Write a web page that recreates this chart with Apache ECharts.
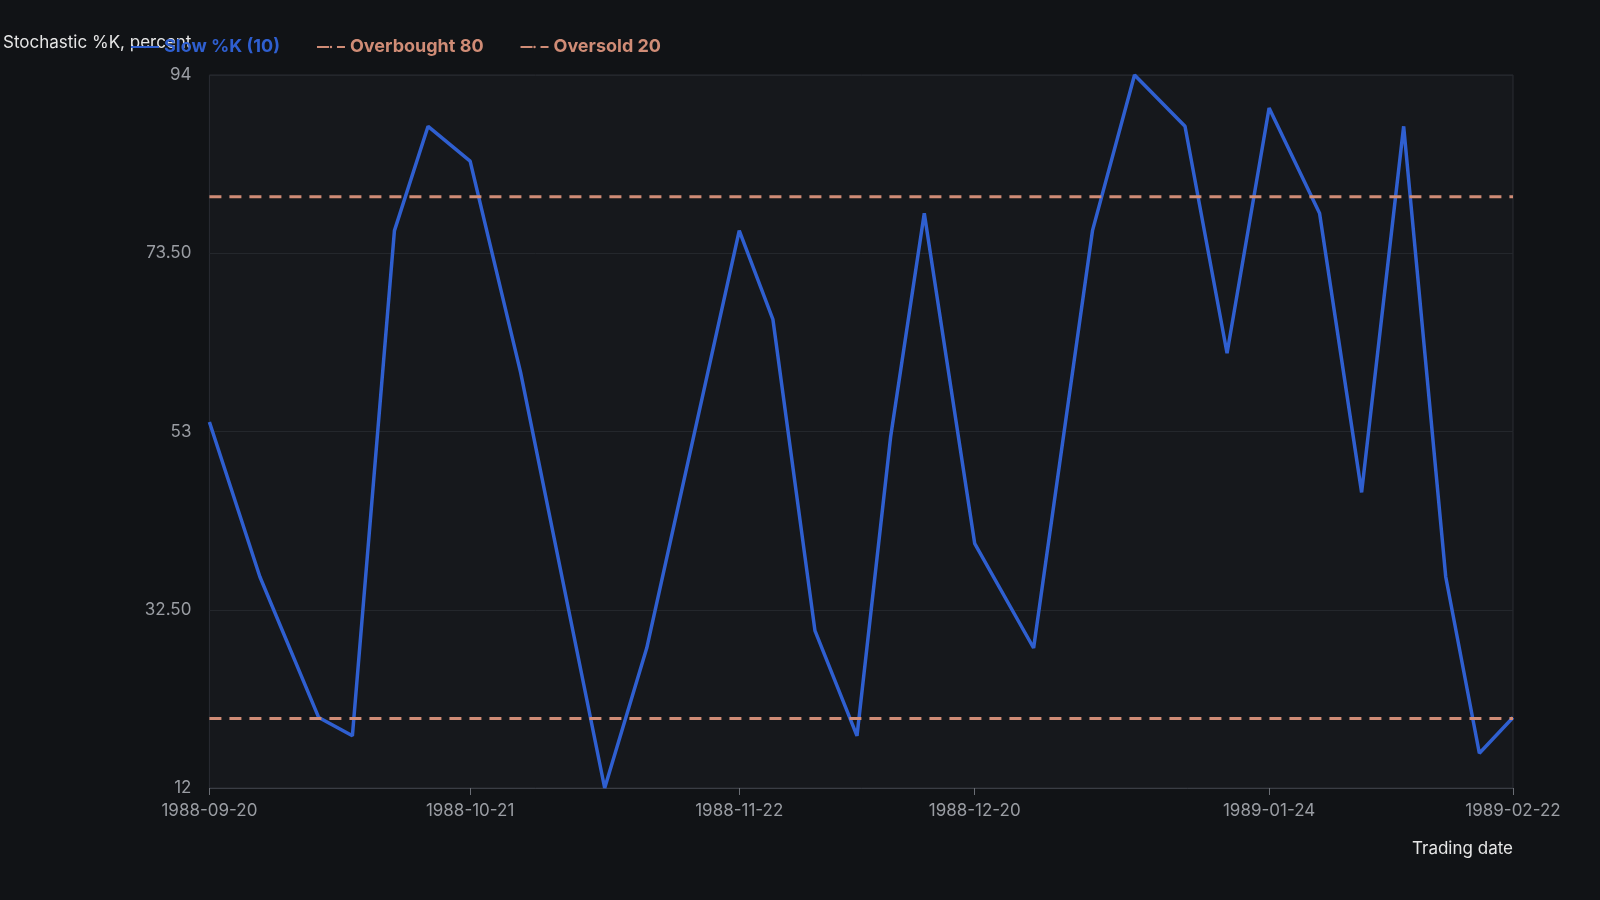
<!DOCTYPE html>
<html>
<head>
<meta charset="utf-8">
<script src="https://cdn.jsdelivr.net/npm/echarts@6/dist/echarts.min.js"></script>
<style>html,body{margin:0;background:#111316;}#chart{width:1600px;height:900px;}</style>
</head>
<body>
<div id="chart"></div>
<script>
const dates = ['1988-09-20','1988-09-26','1988-10-03','1988-10-07','1988-10-12','1988-10-16','1988-10-21','1988-10-27',
  '1988-11-06','1988-11-11','1988-11-22','1988-11-26','1988-12-01','1988-12-06','1988-12-10','1988-12-14','1988-12-20',
  '1988-12-27','1989-01-03','1989-01-08','1989-01-14','1989-01-19','1989-01-24','1989-01-30','1989-02-04','1989-02-09',
  '1989-02-14','1989-02-18','1989-02-22'];
const slowK = [54.1, 36.3, 20.1, 18, 76.1, 88.1, 84.1, 59.8, 12, 28.1, 76.1, 65.9, 30.1, 18, 52.4, 78.1, 40.1,
  28.1, 76.1, 94, 88.1, 62, 90.2, 78.1, 46, 88.1, 36.3, 16, 20.1];
const tickDates = ['1988-09-20','1988-10-21','1988-11-22','1988-12-20','1989-01-24','1989-02-22'];
const overbought = 80;
const oversold = 20;

const chart = echarts.init(document.getElementById('chart'));
const ts = d => new Date(d + 'T00:00:00Z').getTime();
const first = ts(dates[0]), last = ts(dates[dates.length - 1]);
const fmt = v => {
  const d = new Date(v);
  return d.getUTCFullYear() + '-' + String(d.getUTCMonth() + 1).padStart(2, '0') + '-' + String(d.getUTCDate()).padStart(2, '0');
};

chart.setOption({
  backgroundColor: '#111316',
  textStyle: { fontFamily: 'Inter' },
  legend: {
    left: 125, top: 33, itemWidth: 28, itemHeight: 3, itemGap: 36,
    textStyle: { fontSize: 18, fontWeight: 'bold' },
    data: [
      { name: 'Slow %K (10)', textStyle: { color: '#2f5fd0' } },
      { name: 'Overbought 80', textStyle: { color: '#d08c76' } },
      { name: 'Oversold 20', textStyle: { color: '#d08c76' } }
    ]
  },
  grid: { left: 130, right: 87, top: 75, bottom: 112, show: true, backgroundColor: '#16181c', borderColor: '#2a2d33' },
  xAxis: {
    type: 'value', min: first, max: last,
    name: 'Trading date', nameLocation: 'end', nameGap: 0,
    nameTextStyle: { color: '#e6e6e6', fontSize: 17, align: 'right', verticalAlign: 'top', padding: [52, 0, 0, 0] },
    axisLine: { lineStyle: { color: '#3a3d44' } },
    axisTick: { show: true, customValues: tickDates.map(ts), length: 7, lineStyle: { color: '#6b6e75' } },
    axisLabel: { customValues: tickDates.map(ts), formatter: fmt, color: '#9a9da3', fontSize: 17, margin: 14 },
    splitLine: { show: false }
  },
  yAxis: {
    type: 'value', min: 12, max: 94, interval: 20.5,
    name: 'Stochastic %K, percent', nameLocation: 'end', nameGap: 24,
    nameTextStyle: { color: '#e6e6e6', fontSize: 17, align: 'right', padding: [0, 18, 0, 0] },
    axisLine: { show: false }, axisTick: { show: false },
    axisLabel: { color: '#9a9da3', fontSize: 17, margin: 18, formatter: v => Number.isInteger(v) ? String(v) : v.toFixed(2) },
    splitLine: { lineStyle: { color: '#24272c' } }
  },
  series: [
    {
      name: 'Slow %K (10)', type: 'line', symbol: 'none',
      data: dates.map((d, i) => [ts(d), slowK[i]]),
      lineStyle: { color: '#2f5fd0', width: 3.5 }, itemStyle: { color: '#2f5fd0' }, z: 3
    },
    {
      name: 'Overbought 80', type: 'line', symbol: 'none',
      data: [[first, overbought], [last, overbought]],
      lineStyle: { color: '#d08c76', width: 3, type: [12, 8] }, itemStyle: { color: '#d08c76' }
    },
    {
      name: 'Oversold 20', type: 'line', symbol: 'none',
      data: [[first, oversold], [last, oversold]],
      lineStyle: { color: '#d08c76', width: 3, type: [12, 8] }, itemStyle: { color: '#d08c76' }
    }
  ]
});
</script>
</body>
</html>
